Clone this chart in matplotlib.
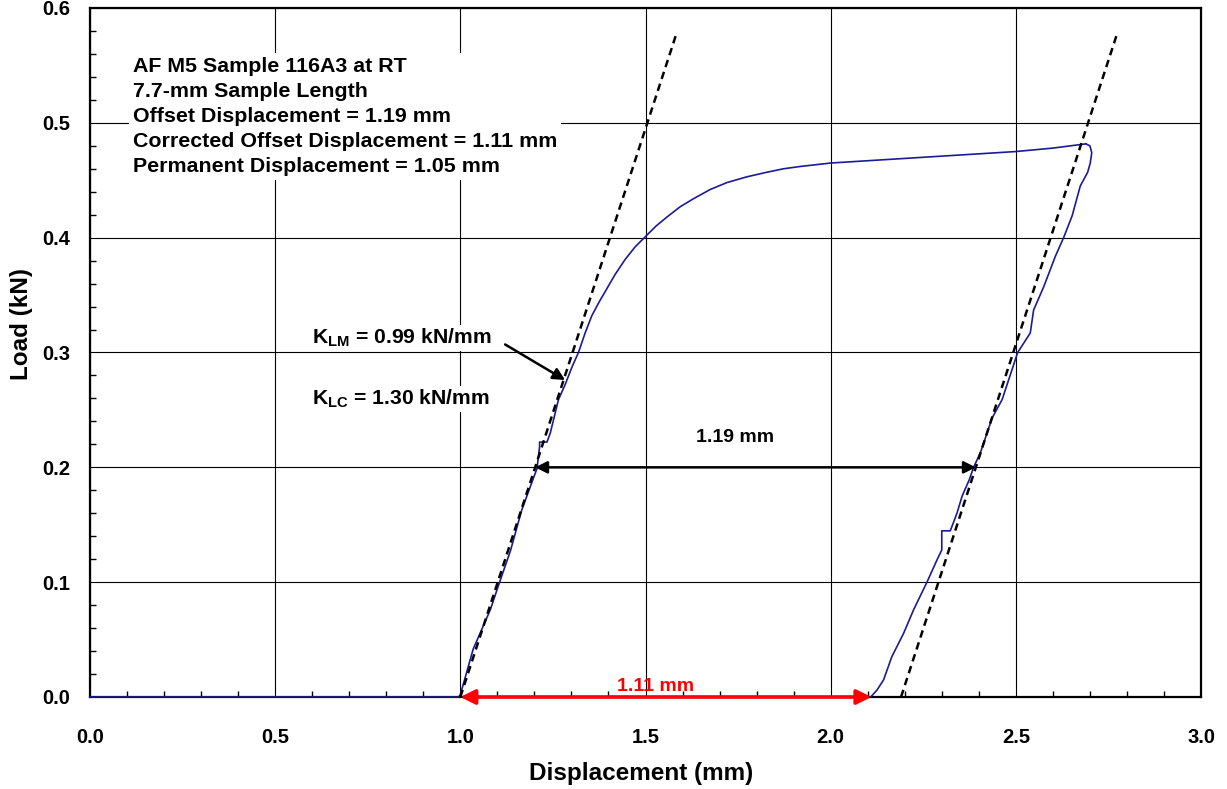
import matplotlib
matplotlib.use("Agg")
import matplotlib.pyplot as plt
from matplotlib.ticker import MultipleLocator

plt.rcParams["font.family"] = ["Liberation Sans", "DejaVu Sans"]
plt.rcParams["font.weight"] = "bold"
plt.rcParams["mathtext.fontset"] = "custom"
plt.rcParams["mathtext.rm"] = "Liberation Sans:bold"
plt.rcParams["mathtext.bf"] = "Liberation Sans:bold"

# --- load / displacement record (kN vs mm) ---
disp_loading = [0.0, 0.5, 0.995, 1.0, 1.035, 1.081, 1.106, 1.135, 1.166, 1.207,
                1.214, 1.214, 1.234, 1.243, 1.265, 1.283, 1.301, 1.319, 1.337,
                1.355, 1.373, 1.391, 1.418, 1.445, 1.472, 1.5, 1.528, 1.558,
                1.594, 1.63, 1.675, 1.72, 1.774, 1.828, 1.873, 1.918, 2.0, 2.1,
                2.2, 2.3, 2.4, 2.5, 2.6, 2.689]
load_loading = [0.0, 0.0, 0.0, 0.002, 0.042, 0.076, 0.100, 0.127, 0.163, 0.199,
                0.218, 0.222, 0.222, 0.230, 0.259, 0.272, 0.287, 0.300, 0.317,
                0.332, 0.343, 0.353, 0.368, 0.381, 0.392, 0.401, 0.410, 0.418,
                0.427, 0.434, 0.442, 0.448, 0.453, 0.457, 0.460, 0.462, 0.465,
                0.467, 0.469, 0.471, 0.473, 0.475, 0.478, 0.4817]

disp_unloading = [2.689, 2.700, 2.705, 2.701, 2.694, 2.674, 2.652, 2.629, 2.607,
                  2.575, 2.548, 2.539, 2.505, 2.463, 2.436, 2.404, 2.386, 2.374,
                  2.355, 2.341, 2.323, 2.300, 2.300, 2.288, 2.260, 2.224, 2.197,
                  2.165, 2.143, 2.125, 2.108]
load_unloading = [0.4817, 0.480, 0.474, 0.465, 0.457, 0.445, 0.419, 0.400, 0.384,
                  0.357, 0.337, 0.317, 0.300, 0.259, 0.243, 0.2125, 0.200, 0.189,
                  0.175, 0.160, 0.1447, 0.1447, 0.128, 0.120, 0.100, 0.076, 0.0555,
                  0.035, 0.015, 0.006, 0.0]

# stiffness lines and offsets (mm, kN/mm)
k_lm = 0.99
k_lc = 1.30
line_start = 1.0
offset_disp = 1.19
corrected_offset = 1.11
permanent_disp = 1.05
line_top = 0.578
offset_load = 0.2

info_lines = [
    "AF M5 Sample 116A3 at RT",
    "7.7-mm Sample Length",
    f"Offset Displacement = {offset_disp:.2f} mm",
    f"Corrected Offset Displacement = {corrected_offset:.2f} mm",
    f"Permanent Displacement = {permanent_disp:.2f} mm",
]

fig = plt.figure(figsize=(12.27, 7.89), dpi=100)
ax = fig.add_axes([90 / 1227, 1 - 697 / 789, 1111 / 1227, 689 / 789])

blue = "#1b1b96"
ax.plot(disp_loading, load_loading, color=blue, lw=1.2, zorder=4, clip_on=False)
ax.plot(disp_unloading, load_unloading, color=blue, lw=1.2, zorder=4)

# elastic lines, second one shifted by the offset displacement
for x0 in (line_start, line_start + offset_disp):
    ax.plot([x0, x0 + line_top / k_lm], [0, line_top], color="black",
            lw=1.8, dashes=(3.0, 2.0), zorder=5)

# offset arrow between the two lines
x_a = line_start + offset_load / k_lm
x_b = x_a + offset_disp
ax.annotate("", xy=(x_a, offset_load), xytext=(x_b, offset_load),
            arrowprops=dict(arrowstyle="<|-|>", color="black", lw=1.8,
                            mutation_scale=18, shrinkA=0, shrinkB=0), zorder=6)
ax.text((x_a + x_b) / 2 - 0.055, 0.2258, f"{offset_disp:.2f} mm", ha="center",
        va="center", fontsize=14, fontweight="bold")

# corrected offset along the x axis
ax.annotate("", xy=(line_start, 0), xytext=(line_start + corrected_offset, 0),
            arrowprops=dict(arrowstyle="<|-|>", color="red", lw=2.6,
                            mutation_scale=22, shrinkA=0, shrinkB=0),
            zorder=6, annotation_clip=False)
ax.text(1.526, 0.0095, f"{corrected_offset:.2f} mm", color="red", ha="center",
        va="center", fontsize=14, fontweight="bold", zorder=7)

# stiffness labels
ax.text(0.60, 0.3125, r"K$_{\mathregular{LM}}$" + f" = {k_lm:.2f} kN/mm",
        ha="left", va="center", fontsize=15.2, fontweight="bold",
        bbox=dict(facecolor="white", edgecolor="none", pad=1), zorder=3)
ax.text(0.60, 0.2595, r"K$_{\mathregular{LC}}$" + f" = {k_lc:.2f} kN/mm",
        ha="left", va="center", fontsize=15.2, fontweight="bold",
        bbox=dict(facecolor="white", edgecolor="none", pad=1), zorder=3)
ax.annotate("", xy=(1.283, 0.276), xytext=(1.121, 0.307),
            arrowprops=dict(arrowstyle="-|>", color="black", lw=1.8,
                            mutation_scale=18, shrinkA=0, shrinkB=0), zorder=6)

ax.text(0.116, 0.5575, "\n".join(info_lines), ha="left", va="top",
        fontsize=15.4, fontweight="bold", linespacing=1.41,
        bbox=dict(facecolor="white", edgecolor="none", pad=3), zorder=3)

ax.set_xlim(0, 3.0)
ax.set_ylim(0, 0.6)
ax.xaxis.set_major_locator(MultipleLocator(0.5))
ax.xaxis.set_minor_locator(MultipleLocator(0.1))
ax.yaxis.set_major_locator(MultipleLocator(0.1))
ax.yaxis.set_minor_locator(MultipleLocator(0.02))
ax.xaxis.set_major_formatter(lambda v, p: f"{v:.1f}")
ax.yaxis.set_major_formatter(lambda v, p: f"{v:.1f}")
ax.tick_params(which="both", direction="in", top=False, right=False,
               width=1.0, labelsize=14.5)
ax.tick_params(which="major", length=0)
ax.tick_params(which="minor", length=4)
ax.tick_params(axis="x", which="major", pad=22)
ax.tick_params(axis="y", which="major", pad=14)
for lbl in ax.get_xticklabels() + ax.get_yticklabels():
    lbl.set_fontweight("bold")

ax.grid(True, which="major", color="black", lw=0.8)
ax.set_axisbelow(True)
for sp in ax.spines.values():
    sp.set_linewidth(1.6)

ax.set_xlabel("Displacement (mm)", fontsize=17.5, fontweight="bold")
ax.set_ylabel("Load (kN)", fontsize=17.5, fontweight="bold")
ax.xaxis.set_label_coords(0.496, -0.094)
ax.yaxis.set_label_coords(-0.051, 0.541)

fig.savefig("out.png", dpi=100)
